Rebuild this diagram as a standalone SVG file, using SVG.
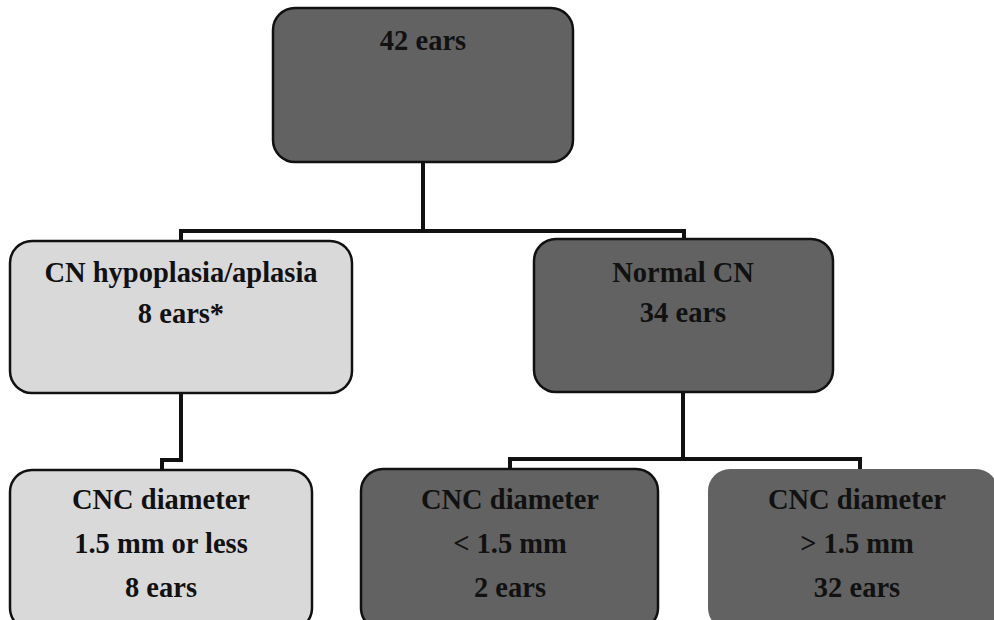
<svg xmlns="http://www.w3.org/2000/svg" width="994" height="620" viewBox="0 0 994 620">
  <style>
    .dark { fill: #626262; stroke: #111111; stroke-width: 2.5; }
    .light { fill: #d9d9d9; stroke: #111111; stroke-width: 2.5; }
    .nostroke { stroke: none; }
    .lbl { font-family: "Liberation Serif", "Times New Roman", serif; font-weight: bold; font-size: 28.5px; fill: #111111; text-anchor: middle; }
    .conn { fill: none; stroke: #111111; stroke-width: 4; stroke-linejoin: miter; }
  </style>
  <rect width="994" height="620" fill="#ffffff"/>
  <g id="connectors">
    <path class="conn" d="M423,162 V231"/>
    <path class="conn" d="M181,241 V231 H684 V239"/>
    <path class="conn" d="M181,393 V460 H162 V470"/>
    <path class="conn" d="M683,392 V459"/>
    <path class="conn" d="M510,469 V459 H860 V469"/>
  </g>
  <g id="n-top">
    <rect class="dark" x="273" y="8" width="300" height="154" rx="22" ry="22"/>
    <text class="lbl" x="423" y="50">42 ears</text>
  </g>
  <g id="n-hypoplasia">
    <rect class="light" x="10" y="241" width="342" height="152" rx="22" ry="22"/>
    <text class="lbl" x="181" y="282">CN hypoplasia/aplasia</text>
    <text class="lbl" x="181" y="323">8 ears*</text>
  </g>
  <g id="n-normal">
    <rect class="dark" x="534" y="239" width="299" height="153" rx="22" ry="22"/>
    <text class="lbl" x="683" y="282">Normal CN</text>
    <text class="lbl" x="683" y="322">34 ears</text>
  </g>
  <g id="n-cnc-less">
    <rect class="light" x="10" y="470" width="302" height="160" rx="22" ry="22"/>
    <text class="lbl" x="161" y="509">CNC diameter</text>
    <text class="lbl" x="161" y="553">1.5 mm or less</text>
    <text class="lbl" x="161" y="597">8 ears</text>
  </g>
  <g id="n-cnc-lt">
    <rect class="dark" x="361" y="469" width="297" height="161" rx="22" ry="22"/>
    <text class="lbl" x="510" y="509">CNC diameter</text>
    <text class="lbl" x="510" y="553">&lt; 1.5 mm</text>
    <text class="lbl" x="510" y="597">2 ears</text>
  </g>
  <g id="n-cnc-gt">
    <rect class="dark nostroke" x="708" y="469" width="290" height="161" rx="22" ry="22"/>
    <text class="lbl" x="857" y="509">CNC diameter</text>
    <text class="lbl" x="857" y="553">&gt; 1.5 mm</text>
    <text class="lbl" x="857" y="597">32 ears</text>
  </g>
</svg>
